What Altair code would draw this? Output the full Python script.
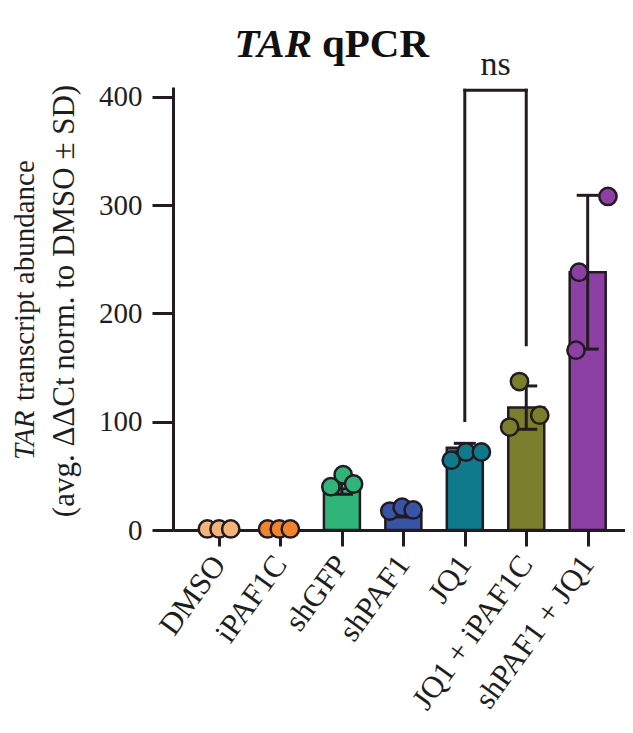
import altair as alt
import pandas as pd

# ---- data ----
categories = ["DMSO", "iPAF1C", "shGFP", "shPAF1", "JQ1", "JQ1 + iPAF1C", "shPAF1 + JQ1"]
means = [1.0, 1.5, 38, 14, 76, 113, 238]
sds = [0.5, 0.5, 5, 2, 4, 20, 71]
colors = ["#F3B47A", "#F0842C", "#2FB578", "#3854A6", "#0E7A8B", "#7B7E2B", "#8C40A4"]

pt_group = [0, 0, 0, 1, 1, 1, 2, 2, 2, 3, 3, 3, 4, 4, 4, 5, 5, 5, 6, 6, 6]
pt_jitter = [-0.19, 0.0, 0.19, -0.21, -0.02, 0.16, -0.18, 0.02, 0.19,
             -0.22, -0.02, 0.16, -0.22, 0.02, 0.27, -0.27, -0.11, 0.22, 0.33, -0.14, -0.19]
pt_value = [1, 1, 1, 1, 1, 1, 40, 51, 42.5, 17.5, 21, 18.5, 64.5, 72, 72, 95, 137, 106, 308, 238, 166]

# significance bracket between JQ1 and JQ1 + iPAF1C
br_left, br_right = 4, 5
br_left_low, br_right_low, br_top = 101, 171, 406
sig_label = "ns"

DARK = "#231A22"
FONT = "Liberation Serif"

bars = pd.DataFrame({
    "idx": list(range(len(categories))),
    "cat": categories,
    "mean": means,
    "sd": sds,
})
bars["lo"] = bars["mean"] - bars["sd"]
bars["hi"] = bars["mean"] + bars["sd"]

pts = pd.DataFrame({
    "grp": pt_group,
    "jit": pt_jitter,
    "val": pt_value,
})
pts["cat"] = [categories[g] for g in pt_group]

label_expr = "[" + ",".join("'" + c + "'" for c in categories) + "][datum.value]"

xscale = alt.Scale(domain=[-0.668, 6.526], nice=False, zero=False)
yscale = alt.Scale(domain=[0, 409], nice=False)
fill = alt.Color("cat:N", scale=alt.Scale(domain=categories, range=colors), legend=None)

x_axis = alt.Axis(values=list(range(len(categories))), labelExpr=label_expr, labelAngle=-54,
                  labelAlign="right", labelBaseline="middle", labelPadding=13, labelLimit=0,
                  tickSize=16, tickWidth=3, tickColor=DARK, domainWidth=3, domainColor=DARK,
                  labelFont=FONT, labelFontSize=31, labelColor="#1E1E1E", title=None, grid=False,
                  labelOverlap=False)
y_axis = alt.Axis(values=[0, 100, 200, 300, 400], tickSize=21, tickWidth=3, tickColor=DARK,
                  domainWidth=3, domainColor=DARK, labelFont=FONT, labelFontSize=29,
                  labelColor="#1E1E1E", labelPadding=10, title=None, grid=False)

base_b = alt.Chart(bars)

bar_layer = base_b.mark_bar(size=36, stroke=DARK, strokeWidth=2.5).encode(
    x=alt.X("idx:Q", scale=xscale, axis=x_axis),
    y=alt.Y("mean:Q", scale=yscale, axis=y_axis),
    fill=fill,
)
err_rule = base_b.mark_rule(color=DARK, strokeWidth=3).encode(
    x=alt.X("idx:Q", scale=xscale), y=alt.Y("lo:Q", scale=yscale), y2="hi:Q"
)
cap_hi = base_b.mark_tick(orient="horizontal", size=22, thickness=3, color=DARK, opacity=1).encode(
    x=alt.X("idx:Q", scale=xscale), y=alt.Y("hi:Q", scale=yscale)
)
cap_lo = base_b.mark_tick(orient="horizontal", size=22, thickness=3, color=DARK, opacity=1).encode(
    x=alt.X("idx:Q", scale=xscale), y=alt.Y("lo:Q", scale=yscale)
)

point_layer = alt.Chart(pts).transform_calculate(
    xp="datum.grp + datum.jit"
).mark_circle(size=300, stroke=DARK, strokeWidth=2.5, opacity=1).encode(
    x=alt.X("xp:Q", scale=xscale), y=alt.Y("val:Q", scale=yscale), fill=fill
)

legs = alt.Chart(pd.DataFrame({
    "x": [br_left, br_right], "y": [br_left_low, br_right_low], "y2": [br_top, br_top]
})).mark_rule(color=DARK, strokeWidth=3, strokeCap="square").encode(
    x=alt.X("x:Q", scale=xscale), y=alt.Y("y:Q", scale=yscale), y2="y2:Q"
)
top_bar = alt.Chart(pd.DataFrame({
    "x": [br_left], "x2": [br_right], "y": [br_top]
})).mark_rule(color=DARK, strokeWidth=3, strokeCap="square").encode(
    x=alt.X("x:Q", scale=xscale), x2="x2:Q", y=alt.Y("y:Q", scale=yscale)
)
ns_text = alt.Chart(pd.DataFrame({
    "x": [(br_left + br_right) / 2], "y": [420], "t": [sig_label]
})).mark_text(font=FONT, fontSize=34, baseline="alphabetic", color="#1E1E1E").encode(
    x=alt.X("x:Q", scale=xscale), y=alt.Y("y:Q", scale=yscale), text="t:N"
)

one = pd.DataFrame({"k": [0]})
t1 = alt.Chart(one).mark_text(text="TAR", font=FONT, fontSize=41, fontWeight="bold",
                              fontStyle="italic", align="right", baseline="alphabetic",
                              color="#111111").encode(x=alt.value(139), y=alt.value(-30))
t2 = alt.Chart(one).mark_text(text="qPCR", font=FONT, fontSize=41, fontWeight="bold",
                              align="left", baseline="alphabetic",
                              color="#111111").encode(x=alt.value(149), y=alt.value(-30))
yl1a = alt.Chart(one).mark_text(text="TAR", font=FONT, fontSize=29, fontStyle="italic",
                                angle=270, align="left", baseline="middle",
                                color="#1E1E1E").encode(x=alt.value(-148), y=alt.value(373))
yl1b = alt.Chart(one).mark_text(text="transcript abundance", font=FONT, fontSize=29,
                                angle=270, align="left", baseline="middle",
                                color="#1E1E1E").encode(x=alt.value(-148), y=alt.value(314))
yl2 = alt.Chart(one).mark_text(text="(avg. ΔΔCt norm. to DMSO ± SD)", font=FONT, fontSize=31,
                               angle=270, align="center", baseline="middle",
                               color="#1E1E1E").encode(x=alt.value(-108), y=alt.value(214))

chart = alt.layer(
    bar_layer, err_rule, cap_hi, cap_lo, point_layer, legs, top_bar, ns_text,
    t1, t2, yl1a, yl1b, yl2
).properties(
    width=452, height=443,
    autosize=alt.AutoSizeParams(type="none"),
    padding={"left": 165, "top": 79, "right": 0, "bottom": 189},
).configure_view(stroke=None)

chart.save("out.html", embed_options={"renderer": "svg", "actions": False})
